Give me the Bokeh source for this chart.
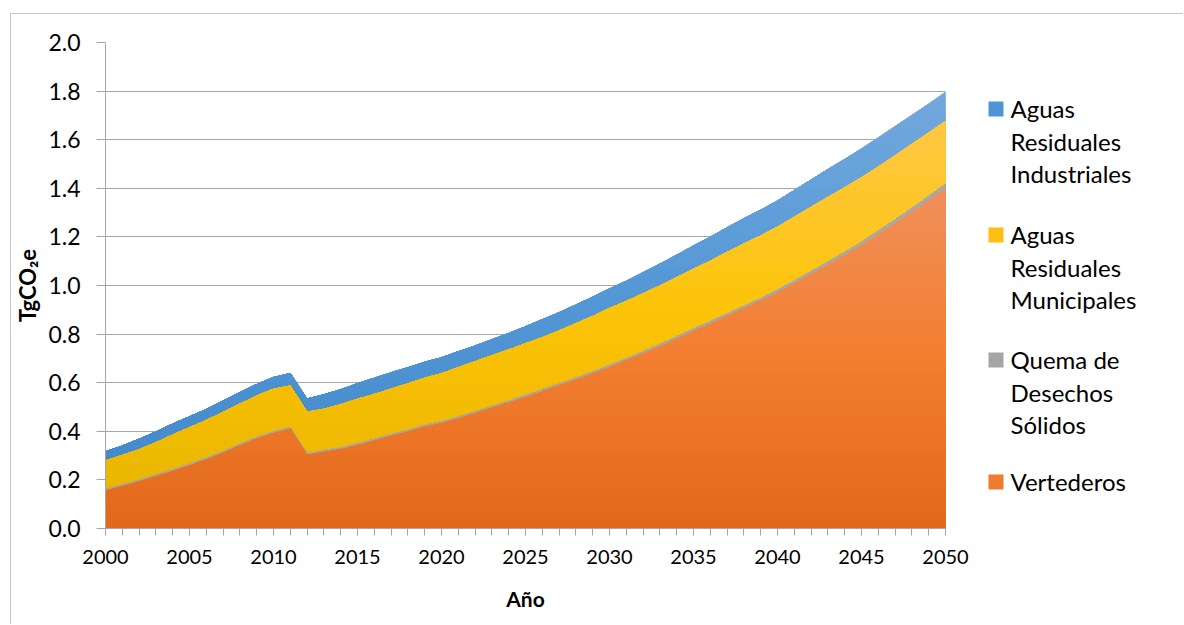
import numpy as np
from bokeh.plotting import figure
from bokeh.layouts import row
from bokeh.models import FixedTicker, PrintfTickFormatter, Range1d, ColumnDataSource
from bokeh.core.properties import value
from bokeh.embed import file_html
from bokeh.resources import INLINE

# ---------------- data ----------------
years = list(range(2000, 2051))

vertederos = [0.156, 0.174, 0.193, 0.215, 0.236, 0.259, 0.284, 0.311, 0.342, 0.369,
              0.392, 0.410, 0.303, 0.315, 0.326, 0.343, 0.361, 0.381, 0.398, 0.419,
              0.433, 0.453, 0.474, 0.496, 0.518, 0.540, 0.564, 0.588, 0.612, 0.637,
              0.663, 0.691, 0.719, 0.749, 0.780, 0.812, 0.842, 0.873, 0.905, 0.937,
              0.970, 1.008, 1.046, 1.085, 1.125, 1.165, 1.210, 1.255, 1.302, 1.350,
              1.398]

quema = [0.007, 0.007, 0.007, 0.007, 0.007, 0.007, 0.007, 0.007, 0.007, 0.007,
         0.007, 0.007, 0.007, 0.007, 0.007, 0.007, 0.007, 0.007, 0.007, 0.007,
         0.007, 0.007, 0.007, 0.007, 0.007, 0.008, 0.008, 0.008, 0.008, 0.008,
         0.009, 0.009, 0.009, 0.009, 0.010, 0.010, 0.011, 0.011, 0.011, 0.011,
         0.012, 0.012, 0.013, 0.013, 0.013, 0.014, 0.015, 0.016, 0.017, 0.018,
         0.020]

municipales = [0.117, 0.121, 0.126, 0.133, 0.144, 0.151, 0.156, 0.161, 0.164, 0.171,
               0.176, 0.171, 0.170, 0.171, 0.178, 0.184, 0.186, 0.187, 0.193, 0.194,
               0.199, 0.204, 0.207, 0.210, 0.212, 0.214, 0.215, 0.219, 0.225, 0.230,
               0.235, 0.236, 0.240, 0.242, 0.244, 0.247, 0.249, 0.254, 0.257, 0.258,
               0.260, 0.263, 0.265, 0.266, 0.266, 0.266, 0.265, 0.265, 0.264, 0.262,
               0.260]

industriales = [0.038, 0.040, 0.043, 0.044, 0.045, 0.045, 0.045, 0.048, 0.048, 0.048,
                0.048, 0.052, 0.055, 0.059, 0.062, 0.064, 0.066, 0.068, 0.066, 0.066,
                0.066, 0.065, 0.065, 0.066, 0.068, 0.070, 0.074, 0.075, 0.077, 0.079,
                0.081, 0.084, 0.087, 0.090, 0.093, 0.096, 0.099, 0.102, 0.104, 0.106,
                0.108, 0.110, 0.112, 0.115, 0.117, 0.119, 0.119, 0.119, 0.119, 0.118,
                0.118]

x_ticks = [2000, 2005, 2010, 2015, 2020, 2025, 2030, 2035, 2040, 2045, 2050]
y_ticks = [0.0, 0.2, 0.4, 0.6, 0.8, 1.0, 1.2, 1.4, 1.6, 1.8, 2.0]

legend_lines = [["Aguas", "Residuales", "Industriales"],
                ["Aguas", "Residuales", "Municipales"],
                ["Quema de", "Desechos", "Sólidos"],
                ["Vertederos"]]

# ---------------- styling ----------------
FONT = "Lato"
GRID = "#A6A6A6"
orange_stops = [(0.0, (226, 104, 26)), (0.7, (243, 126, 48)), (1.4, (240, 143, 90))]
grey_stops = [(0.0, (165, 165, 165)), (2.0, (170, 170, 170))]
yellow_stops = [(0.2, (236, 183, 0)), (0.9, (252, 196, 8)), (1.7, (255, 200, 70))]
blue_stops = [(0.3, (68, 139, 205)), (1.0, (85, 152, 214)), (1.8, (115, 169, 221))]
legend_colors = ["#4F95D3", "#FDC012", "#A5A5A5", "#EE7B30"]


def grad(stops, y):
    ys = [s[0] for s in stops]
    rgb = [int(round(np.interp(y, ys, [s[1][c] for s in stops]))) for c in range(3)]
    return "#%02x%02x%02x" % tuple(rgb)


H = 610
W_MAIN = 960
W_LEG = 1172 - W_MAIN
MB_TOP, MB_BOTTOM, MB_LEFT, MB_RIGHT = 28, 96, 94, 26
X0 = 11  # page x of the layout's content (margin + border)

p = figure(width=W_MAIN, height=H, x_range=Range1d(2000, 2050), y_range=Range1d(0, 2.0),
           output_backend="svg", toolbar_location=None,
           min_border_left=MB_LEFT, min_border_right=MB_RIGHT,
           min_border_top=MB_TOP, min_border_bottom=MB_BOTTOM)
p.outline_line_color = None
p.background_fill_color = "white"
p.border_fill_color = "white"

# ---------------- stacked areas with vertical gradient ----------------
v = np.array(vertederos)
q = np.array(quema)
m = np.array(municipales)
ind = np.array(industriales)
c1 = v
c2 = c1 + q
c3 = c2 + m
c4 = c3 + ind
zero = np.zeros_like(v)

layers = [  # drawn top-most series first, each down to zero so no seams
    (c3, c4, blue_stops),
    (c2, c3, yellow_stops),
    (c1, c2, grey_stops),
    (zero, c1, orange_stops),
]
bands = np.round(np.arange(2.0, 0.0, -0.04), 4)
for lower, upper, stops in layers:
    for b in bands:
        top = np.clip(b, lower, upper)
        if np.all(top <= lower + 1e-12):
            continue
        p.varea(x=years, y1=zero, y2=top, fill_color=grad(stops, b - 0.02), fill_alpha=1.0)

# ---------------- axes ----------------
p.xaxis.ticker = FixedTicker(ticks=x_ticks, minor_ticks=years)
p.yaxis.ticker = FixedTicker(ticks=y_ticks, minor_ticks=[])
p.yaxis.formatter = PrintfTickFormatter(format="%.1f")

for ax in (p.xaxis[0], p.yaxis[0]):
    ax.axis_line_color = GRID
    ax.major_tick_line_color = GRID
    ax.minor_tick_line_color = GRID
    ax.major_tick_in = 0
    ax.minor_tick_in = 0
    ax.major_label_text_font = FONT
    ax.major_label_text_color = "black"
    ax.axis_label_text_font = FONT
    ax.axis_label_text_font_style = "bold"
    ax.axis_label_text_color = "black"

p.xaxis.major_tick_out = 7
p.xaxis.minor_tick_out = 7
p.xaxis.major_label_text_font_size = "20px"
p.xaxis.major_label_standoff = 14
p.xaxis.axis_label = "Año"
p.xaxis.axis_label_text_font_size = "21px"
p.xaxis.axis_label_standoff = 19

p.yaxis.major_tick_out = 9
p.yaxis.minor_tick_out = 0
p.yaxis.major_label_text_font_size = "23px"
p.yaxis.major_label_standoff = 16
p.yaxis.axis_label = "TgCO₂e"
p.yaxis.axis_label_text_font_size = "22px"
p.yaxis.axis_label_standoff = 4

p.xgrid.grid_line_color = None
p.ygrid.grid_line_color = GRID
p.ygrid.grid_line_width = 1

# ---------------- legend panel: ranges expressed in page pixels ----------------
page_top = 14 + MB_TOP
page_bottom = 14 + H - MB_BOTTOM
leg = figure(width=W_LEG, height=H,
             x_range=Range1d(X0 + W_MAIN, X0 + W_MAIN + W_LEG),
             y_range=Range1d(page_bottom, page_top),
             output_backend="svg", toolbar_location=None,
             x_axis_location=None, y_axis_location=None,
             min_border_left=0, min_border_right=0,
             min_border_top=MB_TOP, min_border_bottom=MB_BOTTOM)
leg.outline_line_color = None
leg.xgrid.visible = False
leg.ygrid.visible = False

entry_baselines = [116, 242, 367, 489]
line_step = 32.5
text_shift = -8
sq_left, sq_size, text_x = 988, 15, 1010

sq = dict(left=[], right=[], top=[], bottom=[], color=[])
tx = dict(x=[], y=[], text=[])
for lines, base, col in zip(legend_lines, entry_baselines, legend_colors):
    sq["left"].append(sq_left)
    sq["right"].append(sq_left + sq_size)
    sq["top"].append(base - sq_size)
    sq["bottom"].append(base)
    sq["color"].append(col)
    for i, t in enumerate(lines):
        tx["x"].append(text_x)
        tx["y"].append(base + text_shift + i * line_step)
        tx["text"].append(t)

leg.quad(left="left", right="right", top="top", bottom="bottom", fill_color="color",
         line_color=None, source=ColumnDataSource(sq))
leg.text(x="x", y="y", text="text", source=ColumnDataSource(tx),
         text_font=value(FONT), text_font_size="24px", text_baseline="alphabetic",
         text_align="left", text_color="black")

layout = row(p, leg, spacing=0, margin=(13, 0, 0, 10),
             styles={"border-top": "1px solid #C8C8C8", "border-left": "1px solid #C8C8C8"})

open("out.html", "w").write(file_html(layout, INLINE))
